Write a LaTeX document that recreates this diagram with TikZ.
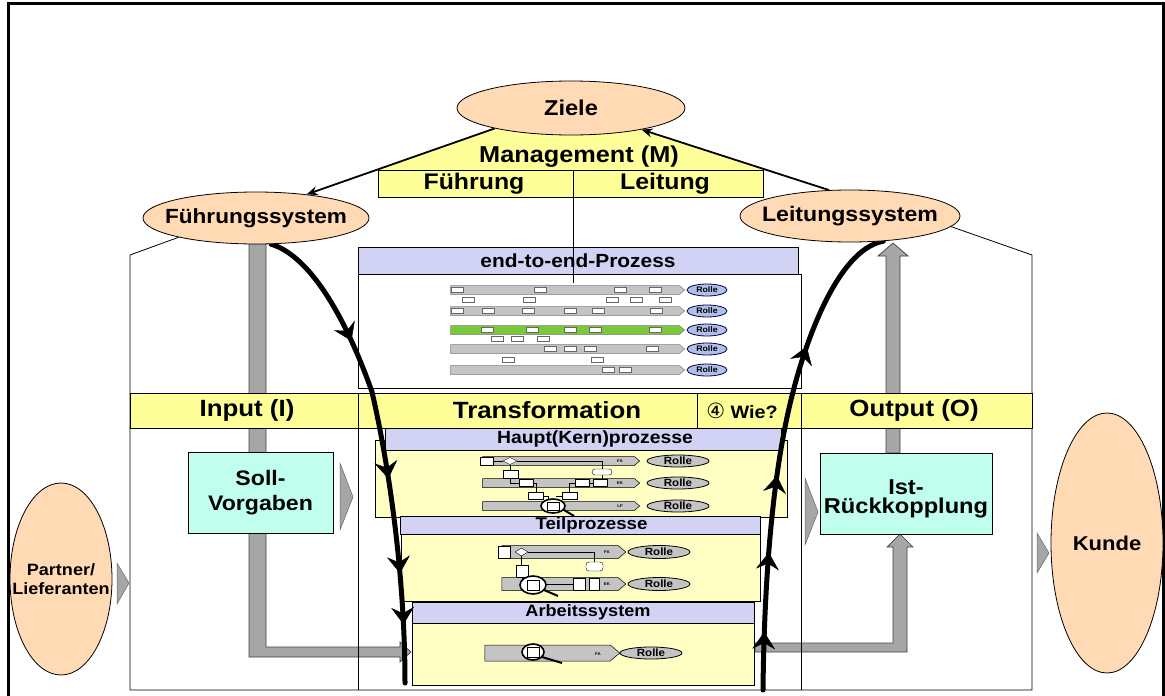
\documentclass[tikz,border=0pt]{standalone}
\usepackage{fontspec}
\setmainfont{Liberation Sans}[FakeStretch=1.1]
\newfontfamily\circfont{DejaVu Sans}
\usetikzlibrary{shapes.geometric,shapes.symbols,arrows.meta,decorations.markings}

\definecolor{peach}{RGB}{255,218,180}
\definecolor{mgmtyellow}{RGB}{255,255,153}
\definecolor{paleyellow}{RGB}{255,255,196}
\definecolor{lilac}{RGB}{210,210,245}
\definecolor{mint}{RGB}{192,255,238}
\definecolor{pipegray}{RGB}{166,166,166}
\definecolor{lanegray}{RGB}{196,196,196}
\definecolor{lanegreen}{RGB}{122,200,60}
\definecolor{roleblue}{RGB}{176,192,232}

\newcommand{\fsz}[1]{\fontsize{#1}{#1}\selectfont\bfseries}
\newcommand{\flowtip}{\arrow{Stealth[length=17pt,width=23pt,inset=6pt,line width=0.5pt]}}

\tikzstyle{goal}=[draw, ellipse, fill=peach, inner sep=0pt, line width=0.8pt]
\tikzstyle{band}=[draw, fill=mgmtyellow, line width=0.8pt]
\tikzstyle{head}=[draw, fill=lilac, line width=1pt, inner sep=0pt]
\tikzstyle{body}=[draw, fill=paleyellow, line width=1pt, inner sep=0pt]
\tikzstyle{infobox}=[draw, fill=mint, line width=1pt, inner sep=0pt, align=center]
\tikzstyle{lane}=[signal, signal to=east, signal pointer angle=80, draw, fill=lanegray, inner sep=0pt, line width=0.5pt]
\tikzstyle{role}=[draw, ellipse, fill=lanegray, inner sep=0pt, line width=0.8pt]
\tikzstyle{pipe}=[draw=black!75, fill=pipegray, line width=0.7pt]
\tikzstyle{wedge}=[draw=black!60, fill=pipegray, line width=0.5pt]
\tikzstyle{flow}=[line width=5pt, line cap=round, postaction={decorate}]
\tikzstyle{tiny}=[draw, fill=white, line width=0.4pt]
\tikzstyle{glass}=[draw, fill=white, line width=1.6pt]
\tikzstyle{goalarrow}=[line width=1.8pt, -{Stealth[length=11pt,width=9pt]}]

\pgfdeclarelayer{front}
\pgfsetlayers{main,front}

\begin{document}
\begin{tikzpicture}[x=1pt,y=-1pt]
\useasboundingbox (0,0) rectangle (1165,696);

\begin{pgfonlayer}{front}
	\draw (571,108)  node (ziele)   [goal, minimum width=228pt, minimum height=54pt, font=\fsz{21.5}] {\makebox[0pt]{Ziele}};
	\draw (256,218)  node (fsys)    [goal, minimum width=226pt, minimum height=52pt, font=\fsz{20.5}] {\makebox[0pt]{Führungssystem}};
	\draw (850,216)  node (lsys)    [goal, minimum width=220pt, minimum height=52pt, font=\fsz{21}] {\makebox[0pt]{Leitungssystem}};
	\draw (61,579)   node (partner) [goal, minimum width=102pt, minimum height=192pt] {};
	\draw (partner)  node (partnerlbl) [align=center, font=\fontsize{16.4}{19}\selectfont\bfseries] {Partner/\\Lieferanten};
	\draw (1107,543) node (kunde)   [goal, minimum width=112pt, minimum height=260pt, font=\fsz{20}] {\makebox[0pt]{Kunde}};
\end{pgfonlayer}

% frame
\draw[line width=3pt] (8,3) rectangle (1163,702);

% pipes
\filldraw[pipe] (249,240) -- (266,240) -- (266,647) -- (400,647) -- (400,642) -- (411,652) -- (400,662) -- (400,657) -- (249,657) -- cycle;
\filldraw[pipe] (886,453) -- (886,256) -- (878,256) -- (893,243) -- (908,256) -- (900,256) -- (900,453) -- cycle;
\filldraw[pipe] (755,643) -- (893,643) -- (893,547) -- (887,547) -- (900,534) -- (913,547) -- (907,547) -- (907,652) -- (755,652) -- cycle;

% house
\draw[line width=0.8pt] (fsys.194) -- (130,255) -- (130,690) -- (1032,690) -- (1032,255) -- (lsys.-6);
\draw[line width=0.8pt] (358,428) -- (358,690) (801,428) -- (801,690);

% management
\fill[mgmtyellow] (565,104) -- (378,170) -- (763,170) -- cycle;
\draw (579,157) node (mgmt) [font=\fsz{23}] {Management (M)};
\draw[band] (378,170) rectangle (763,197);
\draw (474,184) node (fuehrung) [font=\fsz{22.6}] {Führung};
\draw (665,184) node (leitung)  [font=\fsz{22.6}] {Leitung};
\draw[goalarrow] (ziele.195) -- (fsys.25);
\draw[goalarrow] (lsys.129) -- (ziele.-17);

% end-to-end
\draw (579.5,331) node (e2ebody) [draw, fill=white, line width=1pt, inner sep=0pt, minimum width=443pt, minimum height=114pt] {};
\draw (578,260.5) node (e2ehead) [head, minimum width=440pt, minimum height=27pt, font=\fsz{19}] {end-to-end-Prozess};
\foreach \y/\col in {290/lanegray,311/lanegray,330/lanegreen,349/lanegray,370/lanegray}{
	\draw (565,\y) node (lane\y) [lane, fill=\col, draw=gray, minimum width=234pt, minimum height=9pt] {};
	\draw (707,\y) node (role\y) [role, fill=roleblue, draw=black!70!blue, minimum width=40pt, minimum height=12pt, font=\fsz{8}] {Rolle};
}
\foreach \x/\y in {457/290,540/290,620/290,655/290,468/300,529/300,612/300,636/300,665/300,
	457/311,488/311,528/311,570/311,598/311,656/311,487/330,532/330,570/330,595/330,655/330,
	497/339,517/339,543/339,550/349,570/349,590/349,652/349,508/360,597/360,608/370,625/370}
	\draw[tiny, draw=black!60] (\x-6,\y-2.5) rectangle (\x+6,\y+2.5);
\draw[line width=0.8pt] (573,170) -- (573,283);

% IPO band
\draw[band] (130,393) rectangle (1032,428);
\draw[line width=0.8pt] (358,393) -- (358,428) (697,393) -- (697,428) (801,393) -- (801,428);
\draw (247,410.5) node (input)  [font=\fsz{23.5}] {Input (I)};
\draw (547,410.5) node (transf) [font=\fsz{23.5}] {Transformation};
\draw (742,410.5) node (wie)    [font=\fsz{18}] {{\circfont\mdseries\fontsize{21}{21}\selectfont ④}\ Wie?};
\draw (914,410.5) node (output) [font=\fsz{23.5}] {Output (O)};

% Hauptprozesse
\draw (581,478.5) node (hbody) [body, minimum width=412pt, minimum height=77pt] {};
\draw (583,439) node (hhead) [head, minimum width=396pt, minimum height=22pt] {};
\draw (595,439) node (htitle) [font=\fsz{17.6}] {Haupt(Kern)prozesse};
\foreach \y/\lbl in {461/FA,483/EK,506/LF}{
	\draw (558.5,\y) node (hlane\y) [lane, minimum width=157pt, minimum height=9pt] {};
	\draw (620,\y) node (hlbl\y) [font=\fsz{4}] {\lbl};
	\draw (678,\y) node (hrole\y) [role, minimum width=62pt, minimum height=12pt, font=\fsz{10.5}] {Rolle};
}
\draw[line width=0.6pt] (493,461) -- (503,461) (517,461) -- (602,461) -- (602,469);
\draw[line width=0.6pt] (510,464.5) -- (510,470) (510,478) -- (510,483) -- (519,483);
\draw[line width=0.6pt] (532,483) -- (536,483) -- (536,492) (543,496) -- (548,496) -- (548,502);
\draw[line width=0.6pt] (562,496) -- (556,496) (569,492) -- (569,483) -- (575,483) (590,483) -- (593,483) (602,475) -- (602,479);
\draw[tiny] (480,457) rectangle (493,465);
\draw[tiny] (503,461) -- (510,457.5) -- (517,461) -- (510,464.5) -- cycle;
\draw[tiny, rounded corners=3pt] (592,469) rectangle (612,475);
\draw[tiny] (503,470) rectangle (518,478);
\foreach \x in {519,575,593}
	\draw[tiny] (\x,479) rectangle (\x+14,486);
\foreach \x in {528,562}
	\draw[tiny] (\x,492) rectangle (\x+15,499);
\draw[glass] (553,506) ellipse [x radius=12, y radius=7];
\draw[tiny] (547,502) rectangle (559,510);
\draw[line width=2pt] (564,510) -- (574,516);

% Teilprozesse
\draw (580.5,567) node (tbody) [body, minimum width=359pt, minimum height=68pt] {};
\draw (580,525) node (thead) [head, minimum width=360pt, minimum height=18pt] {};
\draw (591.5,525) node (ttitle) [font=\fsz{17}] {Teilprozesse};
\foreach \y/\lbl in {552/FA,584/EK}{
	\draw (560,\y) node (tlane\y) [lane, minimum width=124pt, minimum height=13pt] {};
	\draw (607,\y) node (tlbl\y) [font=\fsz{4}] {\lbl};
	\draw (659,\y) node (trole\y) [role, minimum width=62pt, minimum height=13pt, font=\fsz{10.5}] {Rolle};
}
\draw[line width=0.6pt] (528,552) -- (594,552) -- (594,562) (521.5,556) -- (521.5,565) (522,577) -- (522,584) (546,584) -- (573,584);
\draw[tiny] (498,546) rectangle (510,558);
\draw[tiny] (515,552) -- (521.5,548) -- (528,552) -- (521.5,556) -- cycle;
\draw[tiny, rounded corners=3pt] (586,562) rectangle (603,571);
\draw[tiny] (516,565) rectangle (528,577);
\draw[tiny] (573,578) rectangle (585,590);
\draw[tiny] (589,578) rectangle (599,590);
\draw[glass] (533,585) ellipse [x radius=13, y radius=9];
\draw[tiny] (527,580) rectangle (539,590);
\draw[line width=2pt] (544,590) -- (558,596);

% Arbeitssystem
\draw (583,654) node (abody) [body, minimum width=342pt, minimum height=62pt] {};
\draw (583,612.5) node (ahead) [head, minimum width=342pt, minimum height=21pt] {};
\draw (588,612.5) node (atitle) [font=\fsz{16.5}] {Arbeitssystem};
\draw (547.5,653) node (alane) [lane, minimum width=135pt, minimum height=16pt] {};
\draw (598,654) node (albl) [font=\fsz{4}] {FA};
\draw (651,653) node (arole) [role, minimum width=62pt, minimum height=12pt, font=\fsz{10.5}] {Rolle};
\draw[glass] (533,652) ellipse [x radius=11, y radius=8];
\draw[tiny] (527,647) rectangle (539,657);
\draw[line width=2pt] (542,657) -- (562,663);

% Soll / Ist
\draw (260.5,492.5) node (soll) [infobox, minimum width=145pt, minimum height=81pt, font=\fontsize{21}{25}\selectfont\bfseries] {Soll-\\Vorgaben};
\draw (906,493.5) node (ist) [infobox, minimum width=172pt, minimum height=81pt] {};
\draw (906,499) node (istlbl) [align=center, font=\fontsize{21.5}{19.5}\selectfont\bfseries] {Ist-\\Rückkopplung};
\filldraw[wedge] (117,563) -- (129,583) -- (117,604) -- cycle;
\filldraw[wedge] (340,463) -- (353,497) -- (340,530) -- cycle;
\filldraw[wedge] (805,478) -- (818,512) -- (805,545) -- cycle;
\filldraw[wedge] (1037,533) -- (1049,553) -- (1037,573) -- cycle;

% flows
\coordinate (botL) at (405,683);
\coordinate (botR) at (763,690);
\draw[flow, decoration={markings,
		mark=at position 0.27 with {\flowtip},
		mark=at position 0.57 with {\flowtip},
		mark=at position 0.77 with {\flowtip},
		mark=at position 0.877 with {\flowtip}}]
	(fsys.-60) .. controls (320,259) and (357,349) .. (372,392)
	.. controls (390,470) and (405,580) .. (botL);
\draw[flow, decoration={markings,
		mark=at position 0.12 with {\flowtip},
		mark=at position 0.285 with {\flowtip},
		mark=at position 0.445 with {\flowtip},
		mark=at position 0.72 with {\flowtip}}]
	(botR) .. controls (764,600) and (770,480) .. (793,392)
	.. controls (803,352) and (835,250) .. (lsys.-37);

\end{tikzpicture}
\end{document}
